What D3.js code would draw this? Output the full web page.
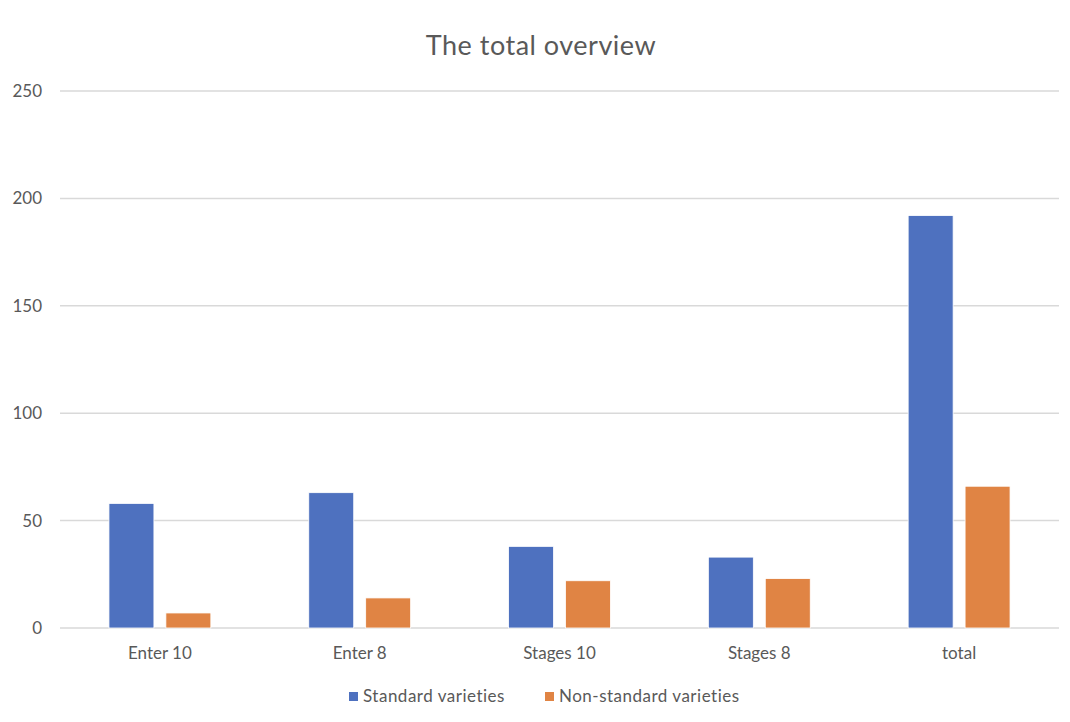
<!DOCTYPE html>
<html>
<head>
<meta charset="utf-8">
<script src="https://cdn.jsdelivr.net/npm/d3@7"></script>
<style>
  body { margin: 0; background: #fff; }
  text { font-family: Lato, "Open Sans", sans-serif; fill: #595959; }
</style>
</head>
<body>
<div id="chart"></div>
<script>
const categories = ['Enter 10', 'Enter 8', 'Stages 10', 'Stages 8', 'total'];
const seriesNames = ['Standard varieties', 'Non-standard varieties'];
const standardValues = [58, 63, 38, 33, 192];
const nonStandardValues = [7, 14, 22, 23, 66];
const yTicks = [0, 50, 100, 150, 200, 250];
const colors = ['#4e71bf', '#e08444'];

const W = 1070, H = 722;
const margin = { top: 91, right: 11, bottom: 94, left: 60 };
const width = W - margin.left - margin.right;
const height = H - margin.top - margin.bottom;

const svg = d3.select('#chart').append('svg')
  .attr('width', W)
  .attr('height', H);

const g = svg.append('g')
  .attr('transform', `translate(${margin.left},${margin.top})`);

const data = categories.map((c, i) => ({
  category: c,
  values: [standardValues[i], nonStandardValues[i]]
}));

const x0 = d3.scaleBand()
  .domain(categories)
  .range([0, width])
  .padding(0);

const x1 = d3.scaleBand()
  .domain(d3.range(seriesNames.length))
  .range([0, x0.bandwidth()])
  .paddingInner(0.21)
  .paddingOuter(0.86);

const y = d3.scaleLinear()
  .domain([0, 250])
  .range([height, 0]);

// gridlines
g.append('g')
  .selectAll('line')
  .data(yTicks)
  .join('line')
  .attr('x1', 0)
  .attr('x2', width)
  .attr('y1', d => y(d))
  .attr('y2', d => y(d))
  .attr('stroke', '#d9d9d9')
  .attr('stroke-width', 1.5);

// y labels
const yAxis = g.append('g')
  .call(d3.axisLeft(y).tickValues(yTicks).tickSize(0).tickPadding(18));
yAxis.select('.domain').remove();
yAxis.selectAll('text')
  .style('font-size', '17px')
  .attr('fill', '#595959');

// bars
g.append('g')
  .selectAll('g')
  .data(data)
  .join('g')
  .attr('transform', d => `translate(${x0(d.category)},0)`)
  .selectAll('rect')
  .data(d => d.values.map((v, i) => ({ i, v })))
  .join('rect')
  .attr('x', d => x1(d.i))
  .attr('y', d => y(d.v))
  .attr('width', x1.bandwidth())
  .attr('height', d => y(0) - y(d.v))
  .attr('fill', d => colors[d.i])
  .attr('stroke', '#fff')
  .attr('stroke-width', 0.8);

// x labels
const xAxis = g.append('g')
  .attr('transform', `translate(0,${height})`)
  .call(d3.axisBottom(x0).tickSize(0).tickPadding(19));
xAxis.select('.domain').remove();
xAxis.selectAll('text')
  .style('font-size', '17px')
  .attr('fill', '#595959');

// title
svg.append('text')
  .attr('x', 541)
  .attr('y', 55)
  .attr('text-anchor', 'middle')
  .style('font-size', '27px')
  .style('letter-spacing', '0.5px')
  .text('The total overview');

// legend
const legendX = [349, 545];
const legend = svg.append('g')
  .selectAll('g')
  .data(seriesNames)
  .join('g')
  .attr('transform', (d, i) => `translate(${legendX[i]},${692})`);

legend.append('rect')
  .attr('width', 9)
  .attr('height', 9)
  .attr('fill', (d, i) => colors[i]);

legend.append('text')
  .attr('x', 14)
  .attr('y', 10)
  .style('font-size', '17px')
  .style('letter-spacing', '0.5px')
  .text(d => d);
</script>
</body>
</html>
